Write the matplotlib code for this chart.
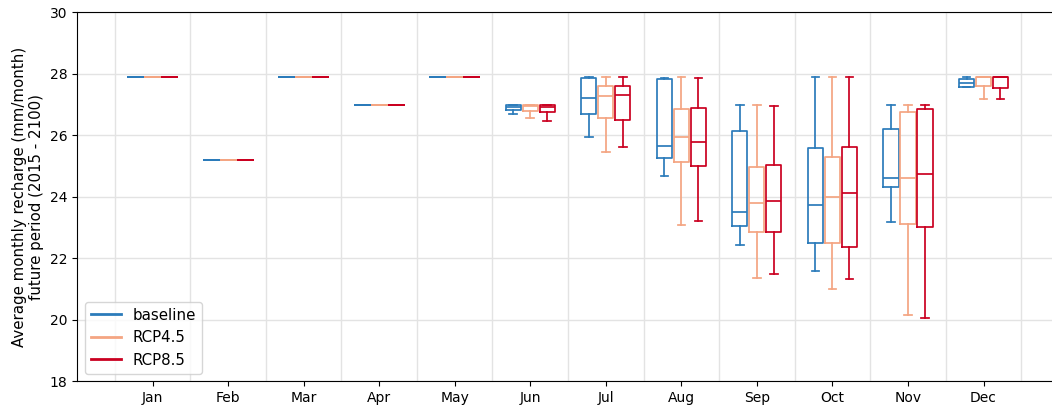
import matplotlib
matplotlib.use("Agg")
import matplotlib.pyplot as plt
from matplotlib.lines import Line2D
import numpy as np

months = ["Jan", "Feb", "Mar", "Apr", "May", "Jun", "Jul", "Aug", "Sep", "Oct", "Nov", "Dec"]
series = ["baseline", "RCP4.5", "RCP8.5"]
colors = ["#2b7bba", "#f4a582", "#ca0020"]

# per month: (whislo, q1, med, q3, whishi)
baseline = [
    (27.88, 27.88, 27.88, 27.88, 27.88),
    (25.18, 25.18, 25.18, 25.18, 25.18),
    (27.88, 27.88, 27.88, 27.88, 27.88),
    (26.98, 26.98, 26.98, 26.98, 26.98),
    (27.88, 27.88, 27.88, 27.88, 27.88),
    (26.67, 26.80, 26.90, 26.98, 26.98),
    (25.92, 26.67, 27.21, 27.84, 27.89),
    (24.67, 25.25, 25.64, 27.81, 27.86),
    (22.41, 23.03, 23.48, 26.13, 26.98),
    (21.57, 22.48, 23.71, 25.57, 27.89),
    (23.18, 24.30, 24.61, 26.19, 26.98),
    (27.55, 27.57, 27.70, 27.81, 27.89),
]
rcp45 = [
    (27.88, 27.88, 27.88, 27.88, 27.88),
    (25.18, 25.18, 25.18, 25.18, 25.18),
    (27.88, 27.88, 27.88, 27.88, 27.88),
    (26.98, 26.98, 26.98, 26.98, 26.98),
    (27.88, 27.88, 27.88, 27.88, 27.88),
    (26.54, 26.78, 26.95, 26.98, 26.98),
    (25.46, 26.54, 27.28, 27.60, 27.87),
    (23.07, 25.12, 25.92, 26.83, 27.88),
    (21.35, 22.85, 23.78, 24.97, 26.98),
    (20.98, 22.50, 23.98, 25.30, 27.89),
    (20.14, 23.09, 24.61, 26.76, 26.98),
    (27.18, 27.59, 27.87, 27.87, 27.89),
]
rcp85 = [
    (27.88, 27.88, 27.88, 27.88, 27.88),
    (25.18, 25.18, 25.18, 25.18, 25.18),
    (27.88, 27.88, 27.88, 27.88, 27.88),
    (26.98, 26.98, 26.98, 26.98, 26.98),
    (27.88, 27.88, 27.88, 27.88, 27.88),
    (26.46, 26.76, 26.92, 26.98, 26.98),
    (25.61, 26.49, 27.31, 27.60, 27.87),
    (23.21, 24.99, 25.76, 26.89, 27.86),
    (21.47, 22.85, 23.86, 25.04, 26.95),
    (21.33, 22.35, 24.13, 25.60, 27.89),
    (20.06, 23.01, 24.74, 26.84, 26.98),
    (27.18, 27.53, 27.87, 27.87, 27.89),
]
all_series = [baseline, rcp45, rcp85]

fig = plt.figure(figsize=(10.52, 4.11), dpi=100)
ax = fig.add_axes([77 / 1052, 1 - 381 / 411, (1053 - 77) / 1052, (381 - 12) / 411])

offsets = [-0.225, 0.0, 0.225]
for data, col, off in zip(all_series, colors, offsets):
    stats = []
    for s in data:
        stats.append(dict(whislo=s[0], q1=s[1], med=s[2], q3=s[3], whishi=s[4], fliers=[]))
    pos = np.arange(len(months)) + off
    lw = 1.25
    ax.bxp(stats, positions=pos, widths=0.2, showfliers=False, manage_ticks=False,
           boxprops=dict(color=col, linewidth=lw),
           whiskerprops=dict(color=col, linewidth=lw),
           capprops=dict(color=col, linewidth=lw),
           medianprops=dict(color=col, linewidth=lw))

ax.set_xlim(-1.0, 11.92)
ax.set_ylim(18, 30)
ax.set_xticks(np.arange(len(months)))
ax.set_xticklabels(months, fontsize=10)
ax.set_xticks(np.arange(len(months) + 1) - 0.5, minor=True)
ax.tick_params(axis="x", which="minor", length=0)
ax.set_yticks(np.arange(18, 31, 2))
ax.tick_params(axis="y", labelsize=10)
ax.grid(True, axis="y", which="major", color="#e3e3e3", linewidth=1.0)
ax.grid(True, axis="x", which="minor", color="#e3e3e3", linewidth=1.0)
ax.set_axisbelow(True)
ax.set_ylabel("Average monthly recharge (mm/month)\nfuture period (2015 - 2100)", fontsize=10.8)

handles = [Line2D([0], [0], color=c, linewidth=2) for c in colors]
ax.legend(handles, series, loc="lower left", fontsize=10.8)

fig.savefig("out.png", dpi=100)
